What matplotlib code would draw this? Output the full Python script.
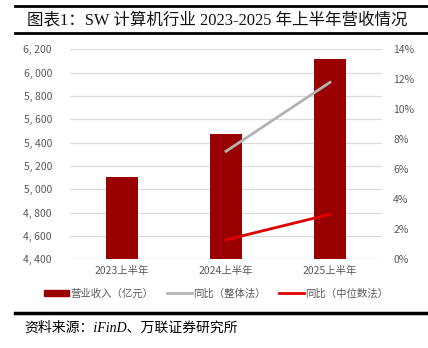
import matplotlib
matplotlib.use("Agg")
import matplotlib.pyplot as plt
from matplotlib.lines import Line2D
from matplotlib.patches import Patch
from matplotlib.ticker import FuncFormatter

plt.rcParams['font.family'] = ['Noto Sans CJK SC', 'DejaVu Sans']

periods = ["2023上半年", "2024上半年", "2025上半年"]
revenue = [5105, 5472, 6115]          # 营业收入（亿元）
yoy_total = [None, 7.2, 11.8]         # 同比（整体法）, %
yoy_median = [None, 1.3, 3.0]         # 同比（中位数法）, %

bar_color = "#990000"
gray_line = "#b3b3b3"
red_line = "#e00000"
tick_color = "#595959"

fig = plt.figure(figsize=(4.28, 3.48), dpi=100)
ax = fig.add_axes([0.1636, 0.2549, 0.7289, 0.6034])
x = list(range(len(periods)))
ax.bar(x, revenue, width=0.31, color=bar_color, zorder=3)
ax.set_xlim(-0.5, 2.5)
ax.set_ylim(4400, 6200)
ax.set_yticks(range(4400, 6201, 200))
ax.yaxis.set_major_formatter(FuncFormatter(lambda v, p: f"{int(v):,}".replace(",", ", ")))
ax.set_xticks(x)
ax.set_xticklabels(periods)
ax.grid(axis='y', color="#d9d9d9", linewidth=0.9, zorder=0)
for s in ax.spines.values():
    s.set_visible(False)
ax.tick_params(length=0, labelsize=7.5, colors=tick_color, pad=13)
ax.tick_params(axis='x', pad=5)

ax2 = ax.twinx()
ax2.set_ylim(0, 14)
ax2.set_yticks(range(0, 15, 2))
ax2.yaxis.set_major_formatter(FuncFormatter(lambda v, p: f"{int(v)}%"))
for s in ax2.spines.values():
    s.set_visible(False)
ax2.tick_params(length=0, labelsize=7.5, colors=tick_color, pad=8)
xs = [i for i, v in zip(x, yoy_total) if v is not None]
ax2.plot(xs, [v for v in yoy_total if v is not None], color=gray_line, linewidth=2, zorder=4)
xs = [i for i, v in zip(x, yoy_median) if v is not None]
ax2.plot(xs, [v for v in yoy_median if v is not None], color=red_line, linewidth=2, zorder=4)

handles = [Patch(color=bar_color), Line2D([], [], color=gray_line, lw=2), Line2D([], [], color=red_line, lw=2)]
labels = ["营业收入（亿元）", "同比（整体法）", "同比（中位数法）"]
fig.legend(handles, labels, loc='center', bbox_to_anchor=(0.505, 0.157), ncol=3, frameon=False,
           fontsize=7.5, labelcolor=tick_color, handlelength=2.4, handleheight=0.6,
           handletextpad=0.1, columnspacing=1.3)

# title block with rules
fig.add_artist(Line2D([0.035, 1.0], [0.982, 0.982], color='black', lw=2))
fig.add_artist(Line2D([0.035, 1.0], [0.905, 0.905], color='black', lw=2))
fig.text(0.063, 0.943, "图表1：SW 计算机行业 2023-2025 年上半年营收情况", fontsize=11.9,
         family=['Liberation Serif', 'Noto Sans CJK SC'], va='center', ha='left', color='#111111')
fig.add_artist(Line2D([0.035, 0.995], [0.100, 0.100], color='black', lw=2.5))
fig.text(0.058, 0.058, "资料来源：iFinD、万联证券研究所", fontsize=10,
         family=['Liberation Serif', 'Noto Sans CJK SC'], style='italic', va='center', ha='left')

fig.savefig("out.png", dpi=100)
